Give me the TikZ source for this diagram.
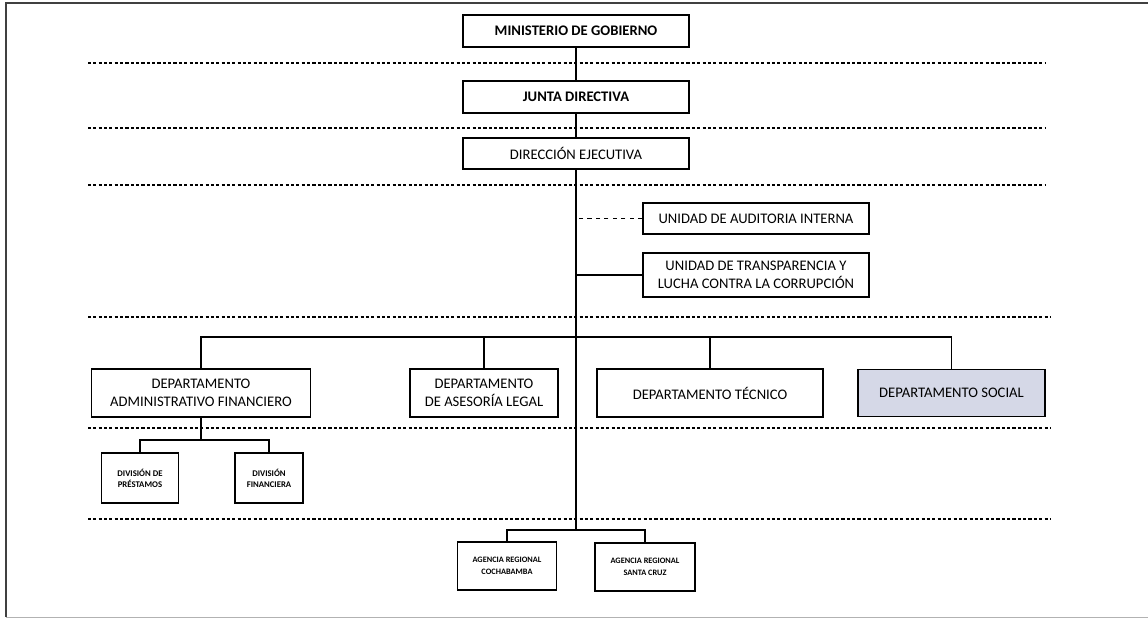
\documentclass[tikz,border=0pt]{standalone}
\usepackage{fontspec}
\setmainfont{Carlito}
\usetikzlibrary{positioning}
\definecolor{socialfill}{RGB}{213,216,231}
\tikzset{
  caja/.style={draw, line width=1.1pt, align=center, inner sep=0pt, font=\fontsize{10.4}{12.4}\selectfont},
  cajita/.style={draw, line width=0.9pt, align=center, inner sep=0pt, font=\fontsize{6.2}{8}\selectfont\bfseries},
  nivel/.style={line width=0.75pt, dash pattern=on 2.2pt off 1.6pt},
  linea/.style={line width=0.8pt}
}
\begin{document}
\begin{tikzpicture}[x=0.025cm, y=-0.025cm]
\useasboundingbox (0,0) rectangle (1148,619);

% marco
\draw[line width=1.2pt, black!75] (6,617) -- (6,3) -- (1148,3);
\draw[line width=0.6pt, black!30] (6,617) -- (1148,617);

% niveles
\draw[nivel] (88,63) -- (1045,63);
\draw[nivel] (88,128) -- (1045,128);
\draw[nivel] (88,185) -- (1045,185);
\draw[nivel] (88,317) -- (1050,317);
\draw[nivel] (88,428) -- (1050,428);
\draw[nivel] (88,519) -- (1050,519);

\node[caja, minimum width=5.65cm, minimum height=0.8cm, font=\fontsize{10.4}{12.4}\selectfont\bfseries] (A) at (576,31) {MINISTERIO DE GOBIERNO};
\node[caja, minimum width=5.65cm, minimum height=0.8cm, font=\fontsize{10.4}{12.4}\selectfont\bfseries] (B) at (576,97) {JUNTA DIRECTIVA};
\node[caja, minimum width=5.65cm, minimum height=0.78cm] (C) at (576,153.5) {DIRECCIÓN EJECUTIVA};

\node[caja, minimum width=5.65cm, minimum height=0.78cm] (D) at (756,218.5) {UNIDAD DE AUDITORIA INTERNA};
\node[caja, minimum width=5.65cm, minimum height=1.1cm] (E) at (756,275) {UNIDAD DE TRANSPARENCIA Y\\LUCHA CONTRA LA CORRUPCIÓN};

\node[caja, minimum width=5.48cm, minimum height=1.2cm] (F) at (201,393) {DEPARTAMENTO\\ADMINISTRATIVO FINANCIERO};
\node[caja, minimum width=3.7cm, minimum height=1.2cm] (G) at (484,393) {DEPARTAMENTO\\DE ASESORÍA LEGAL};
\node[caja, minimum width=5.65cm, minimum height=1.2cm] (H) at (710,393) {DEPARTAMENTO TÉCNICO};
\node[caja, fill=socialfill, minimum width=4.68cm, minimum height=1.18cm] (I) at (951.5,393) {DEPARTAMENTO SOCIAL};

\node[cajita, minimum width=1.93cm, minimum height=1.25cm] (K) at (140,478) {DIVISIÓN DE\\PRÉSTAMOS};
\node[cajita, minimum width=1.7cm, minimum height=1.25cm] (L) at (269,478) {DIVISIÓN\\FINANCIERA};

\node[cajita, minimum width=2.48cm, minimum height=1.2cm, font=\fontsize{5.9}{8.6}\selectfont\bfseries] (M) at (507,566) {AGENCIA REGIONAL\\COCHABAMBA};
\node[cajita, minimum width=2.5cm, minimum height=1.2cm, font=\fontsize{5.9}{8.6}\selectfont\bfseries] (N) at (645,567) {AGENCIA REGIONAL\\SANTA CRUZ};

\coordinate (V) at (576,530);
\coordinate (P) at (576,337);
\coordinate (W) at (201,440);

\draw[linea] (A) -- (B);
\draw[linea] (B) -- (C);
\draw[linea] (C) -- (V);

\draw[linea, dashed] (D.west) -- (D.west -| V);
\draw[linea] (E.west) -- (E.west -| V);

\draw[linea] (F.north) |- (P) -| (I.north);
\draw[linea] (G.north) -- (G.north |- P);
\draw[linea] (H.north) -- (H.north |- P);

\draw[linea] (F) -- (W);
\draw[linea] (K.north) |- (W) -| (L.north);

\draw[linea] (M.north) |- (V) -| (N.north);

\end{tikzpicture}
\end{document}
